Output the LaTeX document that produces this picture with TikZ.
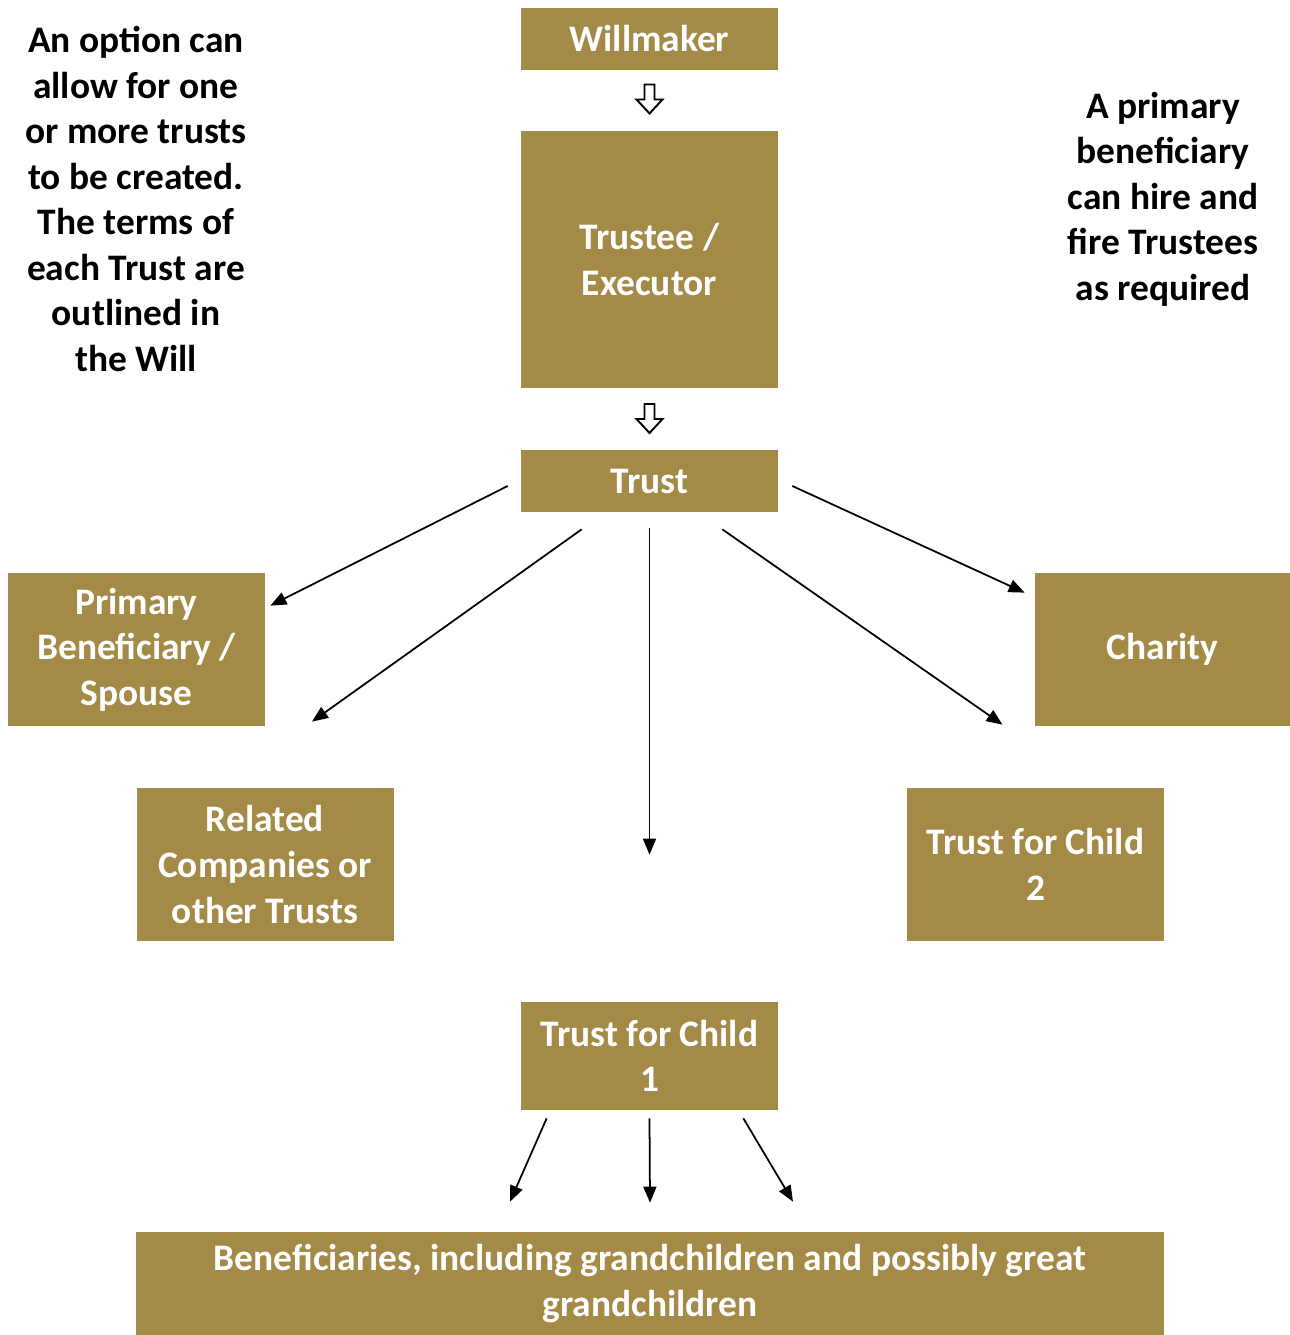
\documentclass[tikz,border=0pt]{standalone}
\usepackage{fontspec}
\setmainfont{Carlito}
\usepackage{tikz}
\usetikzlibrary{
    arrows.meta,
    calc,
    positioning
}
\definecolor{gold}{HTML}{A48A47}
\newcommand{\pxu}{0.02cm}

\begin{document}
\begin{tikzpicture}[x=0.02cm, y=-0.02cm,
        font=\bfseries\fontsize{21.3}{25.9}\selectfont,
        box/.style={fill=gold, text=white, align=center, inner sep=0pt,
            minimum width=257*\pxu},
        note/.style={align=center, inner sep=0pt},
        arr/.style={-{Triangle[length=0.32cm, width=0.26cm]}, line width=1pt},
        pics/hollow/.style={code={
            \draw[line width=1.1pt, fill=white, line join=miter]
                (-5,0) -- (5,0) -- (5,15) -- (13,15) -- (0,29)
                -- (-13,15) -- (-5,15) -- cycle;
        }}]
    \useasboundingbox (0,0) rectangle (1290,1335);

    % side notes
    \node[note] (opt) at (136,199) {An option can\\allow for one\\or more trusts\\to be created.\\The terms of\\each Trust are\\outlined in\\the Will};
    \node[note] (hire) at (1163,199) {A primary\\beneficiary\\can hire and\\fire Trustees\\as required};

    % boxes
    \node[box, minimum height=62*\pxu] (wm) at (649.5,39) {Willmaker};
    \node[box, minimum height=257*\pxu] (te) at (649.5,259.5) {Trustee /\\Executor};
    \node[box, minimum height=62*\pxu] (tr) at (649.5,481) {Trust};
    \node[box, minimum height=153*\pxu] (pb) at (136.5,649.5) {Primary\\Beneficiary /\\Spouse};
    \node[box, minimum height=153*\pxu, minimum width=255*\pxu] (ch) at (1162.5,649.5) {Charity};
    \node[box, minimum height=153*\pxu] (rc) at (265,864.5) {Related\\Companies or\\other Trusts};
    \node[box, minimum height=153*\pxu] (tc2) at (1035.5,864.5) {Trust for Child\\2};
    \node[box, minimum height=108*\pxu] (tc1) at (649.5,1056) {Trust for Child\\1};
    \node[box, minimum height=103*\pxu, minimum width=1028*\pxu] (ben) at (650,1283.5) {Beneficiaries, including grandchildren and possibly great\\grandchildren};

    % hollow arrows
    \pic at ($(wm.south)!.5!(te.north)+(0,-16)$) {hollow};
    \pic at ($(te.south)!.5!(tr.north)+(0,-15)$) {hollow};

    \draw[arr] ($(tr.west)+(-13,5)$) -- ($(pb.north east)+(5,33)$);
    \draw[arr] ($(tr.south west)+(61,17)$) -- ($(rc.north)+(47,-66)$);
    \draw[arr] ($(tr.south)+(0,16)$) -- ($(tc1.north)+(0,-147)$);
    \draw[arr] ($(tr.south east)+(-56,17)$) -- ($(tc2.north)+(-33,-63)$);
    \draw[arr] ($(tr.east)+(14,5)$) -- ($(ch.north west)+(-10,20)$);

    \draw[arr] ($(tc1.south west)+(26,8)$) -- ($(ben.north)+(-140,-30)$);
    \draw[arr] ($(tc1.south)+(0,8)$) -- ($(ben.north)+(0,-29)$);
    \draw[arr] ($(tc1.south east)+(-35,8)$) -- ($(ben.north)+(143,-30)$);
\end{tikzpicture}
\end{document}
